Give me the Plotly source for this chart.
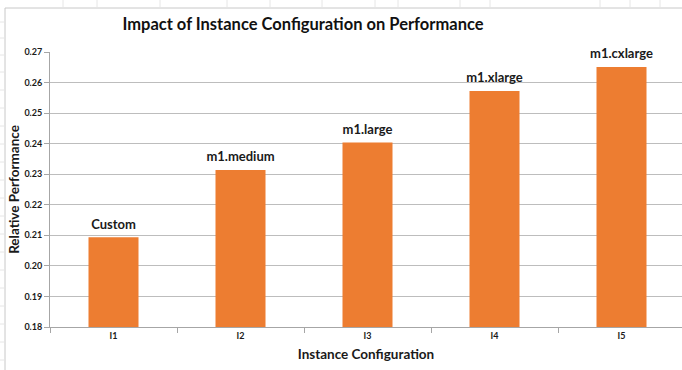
import plotly.graph_objects as go

# Instance configurations and their measured relative performance
categories = ["I1", "I2", "I3", "I4", "I5"]
instance_names = ["Custom", "m1.medium", "m1.large", "m1.xlarge", "m1.cxlarge"]
relative_performance = [0.2094, 0.2314, 0.2404, 0.2572, 0.2651]
y_ticks = [0.18, 0.19, 0.20, 0.21, 0.22, 0.23, 0.24, 0.25, 0.26, 0.27]

W, H = 682, 370
L, T, B, R = 50, 52, 43, 0
plot_w = W - L - R
plot_h = H - T - B
cat_px = 127.0

FONT = "Lato, 'Open Sans', sans-serif"
ORANGE = "#ED7D31"
GRID = "#bdbdbd"
TXT = "#1a1a1a"

fig = go.Figure()
fig.add_trace(go.Bar(
    x=categories,
    y=relative_performance,
    marker=dict(color=ORANGE, line=dict(width=0)),
    hoverinfo="x+y",
))
# instance names written just above each bar (invisible marker pads the text)
fig.add_trace(go.Scatter(
    x=categories,
    y=relative_performance,
    mode="markers+text",
    marker=dict(size=7, opacity=0),
    text=instance_names,
    textposition="top center",
    cliponaxis=False,
    textfont=dict(family=FONT, size=13, color=TXT, weight="bold"),
    hoverinfo="skip",
))


def px_x(px):
    return (px - L) / plot_w


def px_y(py):
    return (H - B - py) / plot_h


# sheet frame behind the chart: chart area border and faint cell lines
shapes = [
    dict(type="line", xref="paper", yref="paper", x0=px_x(5), x1=px_x(5),
         y0=px_y(H), y1=px_y(8), line=dict(color="#c8c8c8", width=1)),
    dict(type="line", xref="paper", yref="paper", x0=px_x(5), x1=px_x(W),
         y0=px_y(8), y1=px_y(8), line=dict(color="#c8c8c8", width=1)),
]
for cx in [63, 97, 160, 227, 270, 322, 375, 398, 460, 490, 600, 630, 660]:
    shapes.append(dict(type="line", xref="paper", yref="paper", x0=px_x(cx), x1=px_x(cx),
                       y0=px_y(0), y1=px_y(7), line=dict(color="#e6e6e6", width=1)))
for ry in [22, 38, 55, 72, 90, 108, 126, 144, 162, 180, 198, 216, 234, 252, 270, 288, 306, 324, 342, 360]:
    shapes.append(dict(type="line", xref="paper", yref="paper", x0=px_x(0), x1=px_x(4),
                       y0=px_y(ry), y1=px_y(ry), line=dict(color="#e6e6e6", width=1)))

fig.update_layout(
    width=W, height=H,
    margin=dict(l=L, r=R, t=T, b=B, pad=0),
    paper_bgcolor="white",
    plot_bgcolor="white",
    showlegend=False,
    bargap=1 - 50 / cat_px,
    title=dict(
        text="Impact of Instance Configuration on Performance",
        x=303 / W, xanchor="center",
        y=1 - 24 / H, yanchor="middle",
        font=dict(family=FONT, size=16.5, color="#111111", weight="bold"),
    ),
    xaxis=dict(
        range=[-0.5, -0.5 + plot_w / cat_px],
        showgrid=False,
        showline=True, linecolor="#a6a6a6", linewidth=1,
        ticks="outside", tickson="boundaries", ticklen=5, tickcolor="#a6a6a6",
        tickfont=dict(family=FONT, size=9, color=TXT, weight="bold"),
        title=dict(text="Instance Configuration", standoff=9,
                   font=dict(family=FONT, size=13.5, color=TXT, weight="bold")),
        fixedrange=True,
    ),
    yaxis=dict(
        range=[0.18, 0.27],
        tickvals=y_ticks,
        ticktext=[f"{v:.2f}" for v in y_ticks],
        showgrid=True, gridcolor=GRID, gridwidth=1,
        showline=True, linecolor="#a6a6a6", linewidth=1,
        ticks="outside", ticklen=5, tickcolor="#a6a6a6",
        tickfont=dict(family=FONT, size=9, color=TXT, weight="bold"),
        title=dict(text="Relative Performance", standoff=1,
                   font=dict(family=FONT, size=13.5, color=TXT, weight="bold")),
        zeroline=False,
        fixedrange=True,
    ),
    shapes=shapes,
)

fig.write_html("out.html")
